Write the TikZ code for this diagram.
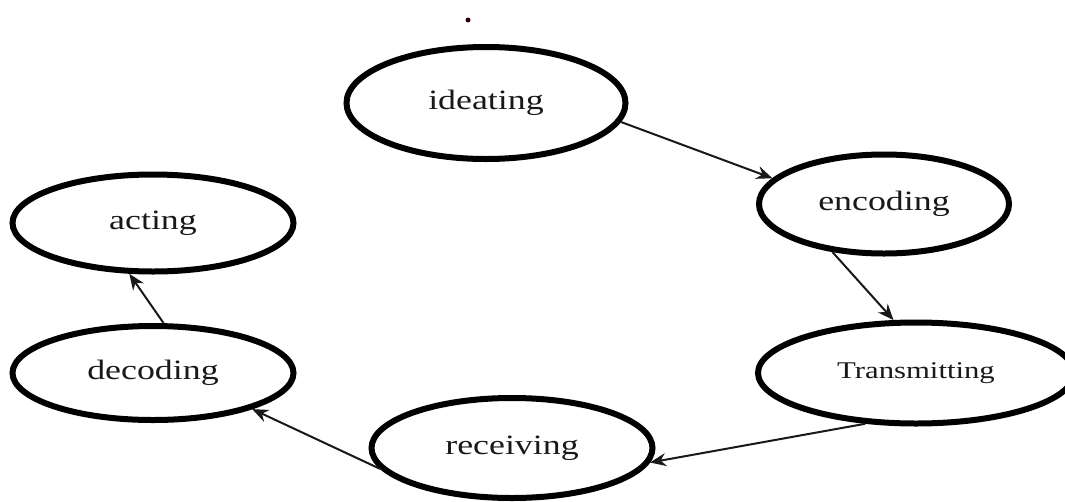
\documentclass[tikz,border=0pt]{standalone}
\usepackage{fontspec}
\setmainfont{Liberation Serif}
\usetikzlibrary{shapes.geometric,arrows.meta}
\tikzset{
  stage/.style={ellipse, draw=black, line width=6pt, inner sep=0pt, font=\fontsize{28}{32}\selectfont, text=black!90},
  flow/.style={line width=2pt, draw=black!90, -{Stealth[length=16pt,width=13pt]}},
}
\newcommand{\wide}[1]{\scalebox{1.28}[1]{#1}}
\begin{document}
\begin{tikzpicture}[x=1pt,y=-1pt]
\fill[white] (0,0) rectangle (1065,501);
\useasboundingbox (0,0) rectangle (1065,501);
\node[circle, fill=black!75!purple, inner sep=0pt, minimum size=5pt] (dot) at (468,20) {};
\node[stage, minimum width=279pt, minimum height=112pt] (ideating) at (486,103) {\wide{ideating}};
\node[stage, minimum width=250pt, minimum height=99pt] (encoding) at (884,204) {\wide{encoding}};
\node[stage, minimum width=316pt, minimum height=101pt, font=\fontsize{24}{28}\selectfont] (transmitting) at (916,373) {\wide{Transmitting}};
\node[stage, minimum width=281pt, minimum height=100pt] (receiving) at (512,448) {\wide{receiving}};
\node[stage, minimum width=281pt, minimum height=94pt] (decoding) at (153,373) {\wide{decoding}};
\node[stage, minimum width=281pt, minimum height=97pt] (acting) at (153,223) {\wide{acting}};
\draw[flow] (ideating.-8) -- (encoding.167);
\draw[flow] (encoding.-137) -- (transmitting.113);
\draw[flow] (transmitting.225) -- (receiving.-6);
\draw[flow] (receiving.189) -- (decoding.-20);
\draw[flow] (decoding.78) -- (acting.245);
\end{tikzpicture}
\end{document}
